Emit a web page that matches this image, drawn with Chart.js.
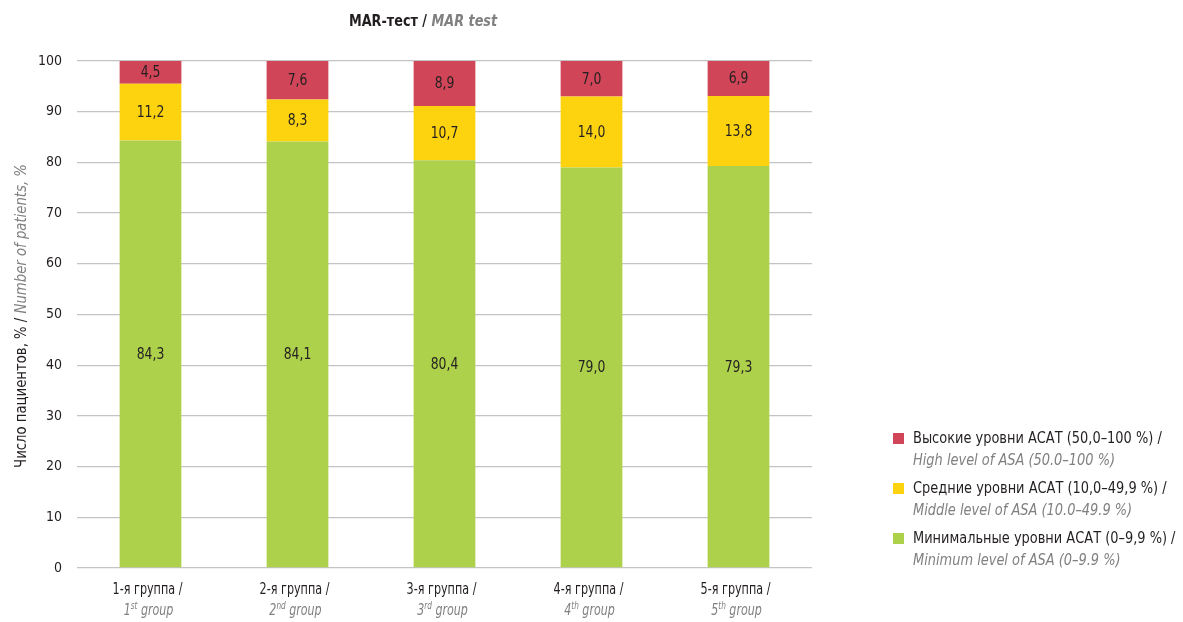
<!DOCTYPE html>
<html>
<head>
<meta charset="utf-8">
<script src="https://cdn.jsdelivr.net/npm/chart.js@4.4.1/dist/chart.umd.min.js"></script>
<style>
html, body { margin: 0; padding: 0; background: #fff; }
</style>
</head>
<body>
<canvas id="marChart" width="1183" height="622"></canvas>
<script>
// data
var groupsRu = ['1-я группа /', '2-я группа /', '3-я группа /', '4-я группа /', '5-я группа /'];
var groupsNum = ['1', '2', '3', '4', '5'];
var groupsSup = ['st', 'nd', 'rd', 'th', 'th'];
var minLevel = [84.3, 84.1, 80.4, 79.0, 79.3];
var midLevel = [11.2, 8.3, 10.7, 14.0, 13.8];
var highLevel = [4.5, 7.6, 8.9, 7.0, 6.9];
var yTicks = [0, 10, 20, 30, 40, 50, 60, 70, 80, 90, 100];
var seriesRu = ['Минимальные уровни АСАТ (0–9,9 %) /', 'Средние уровни АСАТ (10,0–49,9 %) /', 'Высокие уровни АСАТ (50,0–100 %) /'];
var seriesEn = ['Minimum level of ASA (0–9.9 %)', 'Middle level of ASA (10.0–49.9 %)', 'High level of ASA (50.0–100 %)'];

var NARROW = '"Liberation Sans Narrow", "DejaVu Sans Condensed", "Arial Narrow", sans-serif';
var DARK = '#231f20';
var GREY = '#808080';
var colors = ['#aed14c', '#fdd30f', '#d04658'];

Chart.defaults.font.family = NARROW;

function fmt(v) {
    return v.toFixed(1).replace('.', ',');
}

// draws pieces of text one after another, squeezed horizontally by sx
function drawRuns(ctx, runs, x, y, align, sx) {
    sx = sx || 1;
    var total = 0;
    for (let i = 0; i < runs.length; i++) {
        ctx.font = runs[i].font;
        total += ctx.measureText(runs[i].text).width;
    }
    var start = x;
    if (align === 'center') start = x - total * sx / 2;
    else if (align === 'right') start = x - total * sx;
    ctx.save();
    ctx.translate(start, y);
    ctx.scale(sx, 1);
    ctx.textAlign = 'left';
    ctx.textBaseline = 'middle';
    var cx = 0;
    for (let i = 0; i < runs.length; i++) {
        ctx.font = runs[i].font;
        ctx.fillStyle = runs[i].color;
        ctx.fillText(runs[i].text, cx, runs[i].dy || 0);
        cx += ctx.measureText(runs[i].text).width;
    }
    ctx.restore();
}

var extrasPlugin = {
    id: 'extras',
    afterDatasetsDraw(chart) {
        const ctx = chart.ctx;
        chart.data.datasets.forEach(function (ds, di) {
            const meta = chart.getDatasetMeta(di);
            meta.data.forEach(function (bar, i) {
                drawRuns(ctx, [{ text: fmt(ds.data[i]), font: '15px ' + NARROW, color: DARK }],
                    bar.x, (bar.y + bar.base) / 2 + 1, 'center', 0.92);
            });
        });
    },
    afterDraw(chart) {
        const ctx = chart.ctx;
        const xScale = chart.scales.x;

        // title
        drawRuns(ctx, [
            { text: 'MAR-тест / ', font: 'bold 16px ' + NARROW, color: DARK },
            { text: 'MAR test', font: 'italic bold 16px ' + NARROW, color: GREY }
        ], 423, 22, 'center', 0.89);

        // y axis title
        ctx.save();
        ctx.translate(22, 316);
        ctx.rotate(-Math.PI / 2);
        drawRuns(ctx, [
            { text: 'Число пациентов, % / ', font: '16px ' + NARROW, color: DARK },
            { text: 'Number of patients, %', font: 'italic 16px ' + NARROW, color: GREY }
        ], 0, 0, 'center', 0.92);
        ctx.restore();

        // x labels
        for (let i = 0; i < groupsRu.length; i++) {
            const x = xScale.getPixelForTick(i);
            drawRuns(ctx, [{ text: groupsRu[i], font: '15px ' + NARROW, color: DARK }], x - 3, 590, 'center', 0.83);
            drawRuns(ctx, [
                { text: groupsNum[i], font: 'italic 15px ' + NARROW, color: GREY },
                { text: groupsSup[i], font: 'italic 10px ' + NARROW, color: GREY, dy: -5 },
                { text: ' group', font: 'italic 15px ' + NARROW, color: GREY }
            ], x - 2, 611, 'center', 0.82);
        }

        // legend, top item is the top of the stack
        var ly = [439, 489, 539];
        for (let k = 0; k < 3; k++) {
            const s = 2 - k;
            ctx.fillStyle = colors[s];
            ctx.fillRect(893, ly[k] - 6, 11, 11);
            drawRuns(ctx, [{ text: seriesRu[s], font: '16px ' + NARROW, color: DARK }], 913, ly[k], 'left', 0.9);
            drawRuns(ctx, [{ text: seriesEn[s], font: 'italic 16px ' + NARROW, color: GREY }], 913, ly[k] + 22, 'left', 0.9);
        }
    }
};

const ctx = document.getElementById('marChart').getContext('2d');
var marChart = new Chart(ctx, {
    type: 'bar',
    data: {
        labels: groupsRu,
        datasets: [
            { label: seriesRu[0], data: minLevel, backgroundColor: colors[0] },
            { label: seriesRu[1], data: midLevel, backgroundColor: colors[1] },
            { label: seriesRu[2], data: highLevel, backgroundColor: colors[2] }
        ]
    },
    options: {
        responsive: false,
        animation: false,
        layout: {
            padding: { top: 61, right: 371, bottom: 0, left: 0 }
        },
        datasets: {
            bar: { categoryPercentage: 1, barPercentage: 0.42 }
        },
        scales: {
            x: {
                stacked: true,
                grid: { display: false },
                border: { display: false },
                ticks: { display: false },
                afterFit: (scale) => { scale.height = 54; }
            },
            y: {
                stacked: true,
                min: 0,
                max: 100,
                afterBuildTicks: (scale) => { scale.ticks = yTicks.map(v => ({ value: v })); },
                grid: { color: '#c4c4c4', lineWidth: 1.3, drawTicks: false },
                border: { display: false },
                ticks: {
                    color: DARK,
                    padding: 15,
                    font: { size: 14 }
                },
                afterFit: (scale) => { scale.width = 77; }
            }
        },
        plugins: {
            legend: { display: false },
            tooltip: { enabled: false }
        }
    },
    plugins: [extrasPlugin]
});
</script>
</body>
</html>
